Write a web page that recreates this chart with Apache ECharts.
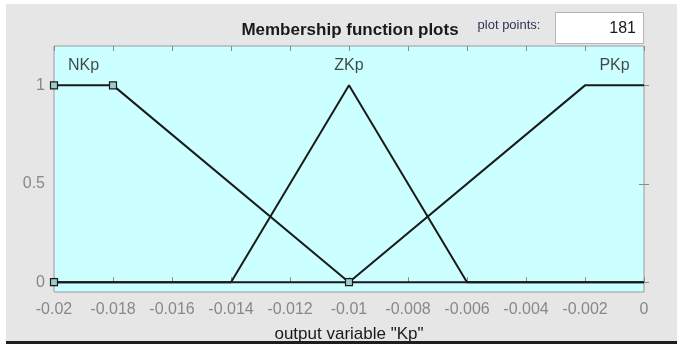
<!DOCTYPE html>
<html>
<head>
<meta charset="utf-8">
<script src="https://cdn.jsdelivr.net/npm/echarts@6/dist/echarts.min.js"></script>
<style>
  html, body { margin: 0; padding: 0; background: #ffffff; }
  #chart { width: 677px; height: 344px; }
</style>
</head>
<body>
<div id="chart"></div>
<script>
// Membership functions of the output variable "Kp"
const mfNames = ['NKp', 'ZKp', 'PKp'];
const nkpX = [-0.02, -0.018, -0.01, 0];
const nkpY = [1, 1, 0, 0];
const zkpX = [-0.02, -0.014, -0.01, -0.006, 0];
const zkpY = [0, 0, 1, 0, 0];
const pkpX = [-0.02, -0.01, -0.002, 0];
const pkpY = [0, 0, 1, 1];
// editing handles of the selected function (NKp parameters)
const handleX = [-0.02, -0.02, -0.018, -0.01];
const handleY = [0, 1, 1, 0];
// name label anchors
const labelX = [-0.019, -0.01, -0.001];
const labelY = [1.1, 1.1, 1.1];
// axis ranges and ticks
const xMin = -0.02, xMax = 0, xTickStep = 0.002;
const yMin = -0.05, yMax = 1.2;
const yTickMin = 0, yTickMax = 1, yTickStep = 0.5;
const plotPoints = '181';

const pairs = (xs, ys) => xs.map((x, i) => [x, ys[i]]);
const fmtX = v => String(parseFloat(Number(v).toFixed(4)));
const FONT = 'Liberation Sans, Arial, sans-serif';

// plot box layout
const W = 677, H = 344;
const box = { left: 54, right: 33, top: 46, bottom: 52 };
const plotH = H - box.top - box.bottom;
const yPx = v => box.top + (yMax - v) / (yMax - yMin) * plotH;

const chart = echarts.init(document.getElementById('chart'), null, { renderer: 'canvas' });

const lineStyle = { color: '#1a1a1a', width: 2 };
const lineSeries = (name, xs, ys) => ({
  name, type: 'line', data: pairs(xs, ys), symbol: 'none',
  lineStyle, xAxisIndex: 0, yAxisIndex: 0, z: 3, animation: false
});
const tickStyle = { show: true, inside: true, length: 5, lineStyle: { color: '#8a8a8a' } };

chart.setOption({
  animation: false,
  textStyle: { fontFamily: FONT },
  graphic: [
    { type: 'rect', z: -100, silent: true, shape: { x: 6, y: 4, width: W - 6, height: H - 6 }, style: { fill: '#e6e6e6' } },
    { type: 'rect', z: 100, silent: true, shape: { x: 6, y: H - 3, width: W - 6, height: 3 }, style: { fill: '#1e1e1e' } },
    { type: 'text', z: 100, x: 350, y: 30, style: { text: 'Membership function plots', font: 'bold 17px ' + FONT, fill: '#1a1a1a', textAlign: 'center', textVerticalAlign: 'middle' } },
    { type: 'text', z: 100, x: 509, y: 25, style: { text: 'plot points:', font: '13px ' + FONT, fill: '#2a3550', textAlign: 'center', textVerticalAlign: 'middle' } },
    { type: 'rect', z: 100, shape: { x: 555.5, y: 12.5, width: 88, height: 31 }, style: { fill: '#ffffff', stroke: '#b4b4b4', lineWidth: 1 } },
    { type: 'text', z: 101, x: 636, y: 29, style: { text: plotPoints, font: '16px ' + FONT, fill: '#1a1a1a', textAlign: 'right', textVerticalAlign: 'middle' } }
  ],
  grid: [
    // the plot box
    {
      left: box.left, right: box.right, top: box.top, bottom: box.bottom,
      outerBoundsMode: 'none', containLabel: false,
      show: true, backgroundColor: '#ccffff', borderColor: '#9a9a9a', borderWidth: 1
    },
    // the 0..1 band that carries the membership-grade ticks
    {
      left: box.left, right: box.right, top: yPx(yTickMax), bottom: H - yPx(yTickMin),
      outerBoundsMode: 'none', containLabel: false, show: false
    }
  ],
  xAxis: [
    {
      gridIndex: 0, type: 'value', position: 'bottom', min: xMin, max: xMax, interval: xTickStep,
      name: 'output variable "Kp"', nameLocation: 'middle', nameGap: 34,
      nameTextStyle: { fontSize: 17, color: '#1a1a1a' },
      axisLine: { show: false },
      axisTick: tickStyle,
      axisLabel: { margin: 10, fontSize: 16, color: '#888888', formatter: fmtX, showMinLabel: true, showMaxLabel: true },
      splitLine: { show: false }
    },
    {
      gridIndex: 0, type: 'value', position: 'top', min: xMin, max: xMax, interval: xTickStep,
      axisLine: { show: false }, axisTick: tickStyle, axisLabel: { show: false }, splitLine: { show: false }
    },
    {
      gridIndex: 1, type: 'value', min: xMin, max: xMax, show: false
    }
  ],
  yAxis: [
    {
      gridIndex: 0, type: 'value', min: yMin, max: yMax,
      axisLine: { show: false }, axisTick: { show: false }, axisLabel: { show: false }, splitLine: { show: false }
    },
    {
      gridIndex: 1, type: 'value', position: 'left', min: yTickMin, max: yTickMax, interval: yTickStep,
      axisLine: { show: false }, axisTick: tickStyle, splitLine: { show: false },
      axisLabel: { margin: 9, fontSize: 16, color: '#888888', formatter: v => String(v) }
    },
    {
      gridIndex: 1, type: 'value', position: 'right', min: yTickMin, max: yTickMax, interval: yTickStep,
      axisLine: { show: false }, axisTick: tickStyle, axisLabel: { show: false }, splitLine: { show: false }
    }
  ],
  series: [
    lineSeries('NKp', nkpX, nkpY),
    lineSeries('ZKp', zkpX, zkpY),
    lineSeries('PKp', pkpX, pkpY),
    {
      name: 'handles', type: 'scatter', data: pairs(handleX, handleY),
      symbol: 'rect', symbolSize: 7, z: 5,
      itemStyle: { color: '#9ecccc', borderColor: '#1a1a1a', borderWidth: 1.2, opacity: 1 }
    },
    {
      name: 'labels', type: 'scatter', symbolSize: 0, z: 6,
      data: labelX.map((x, i) => ({ name: mfNames[i], value: [x, labelY[i]] })),
      label: { show: true, position: 'inside', formatter: p => p.name, fontSize: 16, color: '#1a1a1a' }
    }
  ]
});
</script>
</body>
</html>
